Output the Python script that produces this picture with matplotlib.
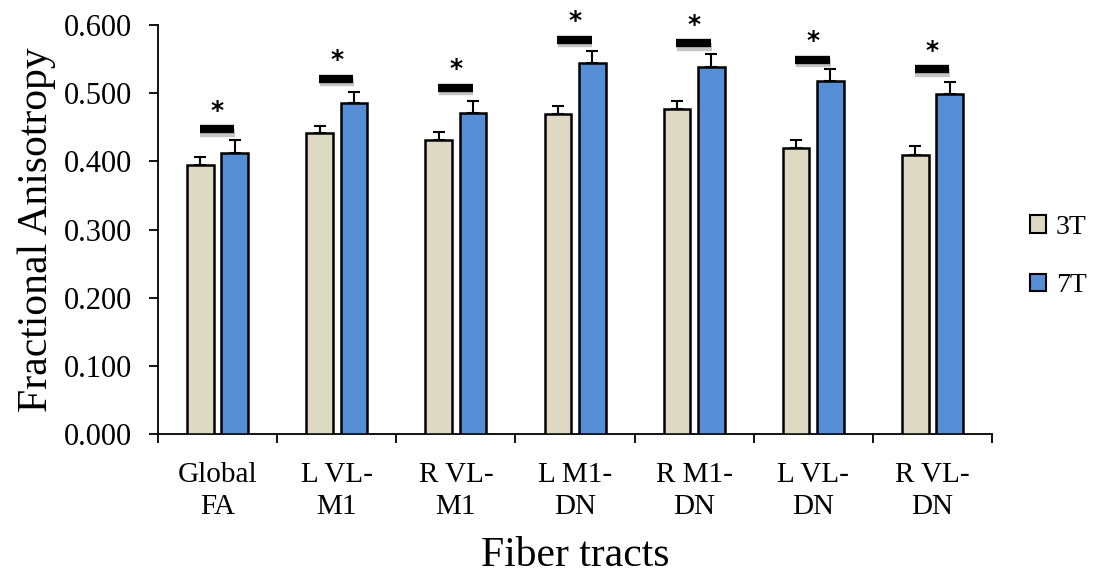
import numpy as np
import matplotlib
matplotlib.use("Agg")
import matplotlib.pyplot as plt
import matplotlib.patheffects as pe
from matplotlib.patches import Patch

# data
tracts = ["Global\nFA", "L VL-\nM1", "R VL-\nM1", "L M1-\nDN", "R M1-\nDN", "L VL-\nDN", "R VL-\nDN"]
fa_3t = [0.395, 0.441, 0.432, 0.470, 0.477, 0.420, 0.410]
err_3t = [0.011, 0.011, 0.011, 0.011, 0.012, 0.011, 0.012]
fa_7t = [0.413, 0.485, 0.471, 0.545, 0.539, 0.518, 0.499]
err_7t = [0.018, 0.017, 0.017, 0.017, 0.018, 0.017, 0.017]
sig_y = [0.447, 0.521, 0.508, 0.578, 0.573, 0.549, 0.535]

plt.rcParams['font.family'] = ['Liberation Serif', 'DejaVu Serif']

fig = plt.figure(figsize=(10.94, 5.77), dpi=100)
ax = fig.add_axes([0.1444, 0.2473, 0.9068 - 0.1444, 0.9567 - 0.2473])

x = np.arange(len(tracts))
w = 0.224
off = 0.144
c3 = '#DDD9C3'
c7 = '#558ED5'

ax.bar(x - off, fa_3t, w, color=c3, edgecolor='black', linewidth=1.8, zorder=3)
ax.bar(x + off, fa_7t, w, color=c7, edgecolor='black', linewidth=1.8, zorder=3)
ax.errorbar(x - off, fa_3t, yerr=[np.zeros(len(x)), err_3t], fmt='none',
            ecolor='black', elinewidth=1.5, capsize=4.5, capthick=1.5, zorder=2)
ax.errorbar(x + off, fa_7t, yerr=[np.zeros(len(x)), err_7t], fmt='none',
            ecolor='black', elinewidth=1.5, capsize=4.5, capthick=1.5, zorder=2)

# significance bars with shadow
shadow = [pe.SimpleLineShadow(offset=(0.5, -2.5), shadow_color='gray', alpha=0.45), pe.Normal()]
for i, y in enumerate(sig_y):
    ax.plot([i - 0.15, i + 0.14], [y, y], color='black', lw=6, solid_capstyle='butt',
            path_effects=shadow, zorder=4)
    ax.text(i, y + 0.010, '*', ha='center', va='bottom', fontsize=18, fontweight='bold',
            family='DejaVu Sans', zorder=4)

ax.set_xlim(-0.5, len(tracts) - 0.5)
ax.set_ylim(0, 0.6)
ax.set_yticks(np.arange(0, 0.61, 0.1))
ax.set_yticklabels([f"{v:.3f}" for v in np.arange(0, 0.61, 0.1)], fontsize=22)
ax.set_xticks(np.arange(-0.5, len(tracts), 1.0))
ax.set_xticklabels([])
ax.set_xticks(x, minor=True)
ax.set_xticklabels(tracts, minor=True, fontsize=21, linespacing=1.3)
ax.tick_params(axis='x', which='minor', length=0, pad=20)
ax.tick_params(axis='both', which='major', direction='out', length=6.5, width=1.3)
ax.tick_params(axis='y', pad=12)

for s in ['top', 'right']:
    ax.spines[s].set_visible(False)
for s in ['left', 'bottom']:
    ax.spines[s].set_linewidth(1.3)

ax.set_ylabel("Fractional Anisotropy", fontsize=30, labelpad=6)
ax.set_xlabel("Fiber tracts", fontsize=30, labelpad=12)

handles = [Patch(facecolor=c3, edgecolor='black', linewidth=1.5, label='3T'),
           Patch(facecolor=c7, edgecolor='black', linewidth=1.5, label='7T')]
fig.legend(handles=handles, loc='center left', bbox_to_anchor=(0.931, 0.555), frameon=False,
           fontsize=20, handlelength=0.6, handleheight=0.6, handletextpad=0.35,
           labelspacing=1.2, borderaxespad=0)

fig.savefig("out.png", dpi=100)
